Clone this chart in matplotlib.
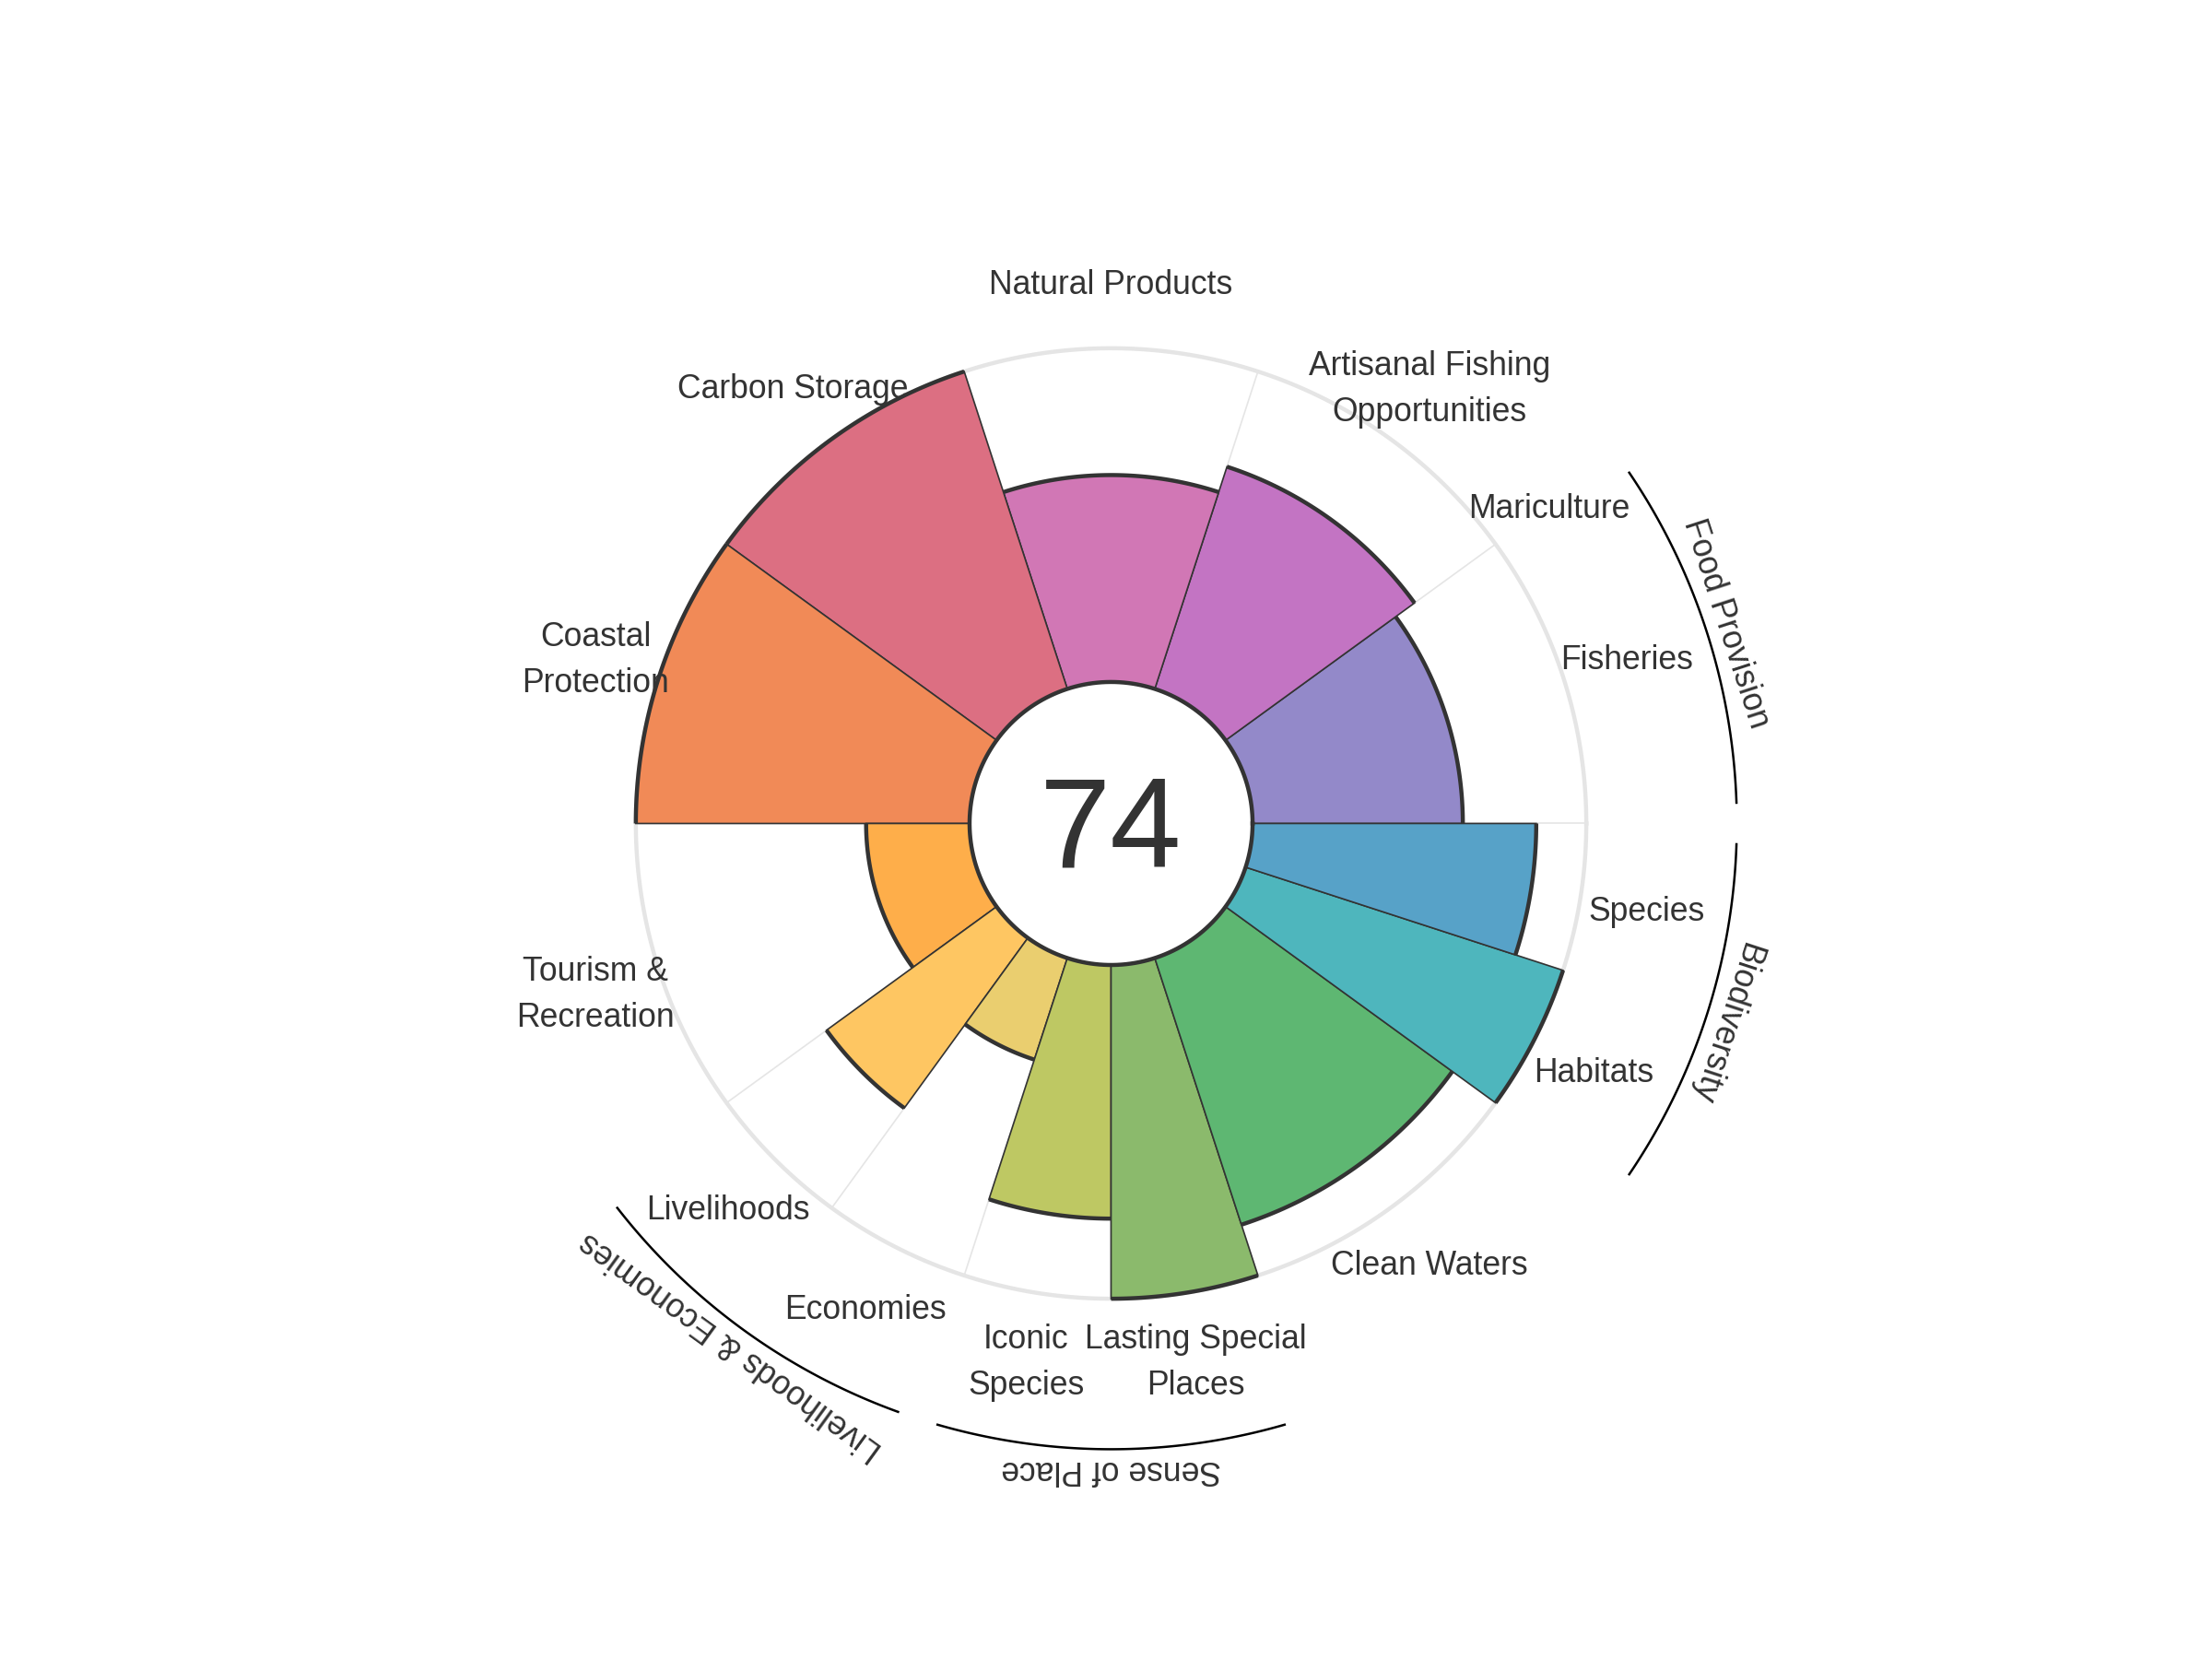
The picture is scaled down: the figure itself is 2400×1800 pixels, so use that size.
import numpy as np
import matplotlib
matplotlib.use("Agg")
from matplotlib import pyplot as plt
from matplotlib.transforms import offset_copy

plt.rcParams['font.family'] = ['Liberation Sans', 'DejaVu Sans']

# goals, counter-clockwise starting from east
goals = ['Fisheries', 'Mariculture', 'Artisanal Fishing\nOpportunities', 'Natural Products',
         'Carbon Storage', 'Coastal\nProtection', 'Tourism &\nRecreation', 'Livelihoods',
         'Economies', 'Iconic\nSpecies', 'Lasting Special\nPlaces', 'Clean Waters',
         'Habitats', 'Species']
scores = [63, 0, 70, 62, 100, 100, 31, 63, 32, 76, 100, 84, 100, 85]
weights = [2, 0, 2, 2, 2, 2, 2, 1, 1, 1, 1, 2, 1, 1]
colors = ['#9389C9', '#A37FC7', '#C374C3', '#D177B5', '#DC6F82', '#F18A57', '#FEAE4A',
          '#FEC662', '#EACE6F', '#BEC863', '#8BBA6C', '#5EB772', '#4EB6BD', '#57A2C8']
groups = ['Food Provision', 'Livelihoods & Economies', 'Sense of Place', 'Biodiversity']
group_members = [[0, 1], [7, 8], [9, 10], [12, 13]]
index_score = 74

base = 42.4     # radius of the centre hole
lab_r = 162.4
arc_r = 187.5
grp_r = 193.6

w = np.array(weights) / sum(weights) * 2 * np.pi
starts = np.concatenate([[0], np.cumsum(w)[:-1]])
mids = starts + w / 2

fig = plt.figure(figsize=(12, 9), dpi=200)
ax = fig.add_axes([0.20054, 0.10128, 0.6035, 0.8047], projection='polar')
ax.set_ylim(0, 200)
ax.axis('off')

# light grey frame
th = np.linspace(0, 2 * np.pi, 400)
ax.plot(th, np.full_like(th, base + 100), color='#e5e5e5', lw=1.6, zorder=1)
for s in np.unique(np.round(starts, 6)):
    ax.plot([s, s], [base, base + 100], color='#e5e5e5', lw=0.6, zorder=1)

for i in range(len(goals)):
    if w[i] == 0:
        continue
    ax.bar(starts[i], scores[i], width=w[i], bottom=base, align='edge',
           color=colors[i], edgecolor='#333333', linewidth=0.6, zorder=2)
    t = np.linspace(starts[i], starts[i] + w[i], 60)
    ax.plot(t, np.full_like(t, base + scores[i]), color='#333333', lw=1.6,
            solid_capstyle='butt', zorder=3)

# centre circle
ax.fill(th, np.full_like(th, base), color='white', zorder=4)
ax.plot(th, np.full_like(th, base), color='#333333', lw=1.6, zorder=5)
ax.text(0.5, 0.4675, str(index_score), ha='center', va='baseline', fontsize=50,
        color='#333333', zorder=6, transform=ax.transAxes)

# goal labels
lab_tr = offset_copy(ax.transData, fig=fig, x=0, y=-4.5, units='dots')
for i in range(len(goals)):
    ax.text(mids[i], lab_r, goals[i], ha='center', va='center', fontsize=12.8,
            color='#333333', linespacing=1.55, transform=lab_tr)

# group arcs and names
pad = np.deg2rad(1.9)
for g, members in zip(groups, group_members):
    a0 = starts[members[0]] + pad
    a1 = starts[members[-1]] + w[members[-1]] - pad
    t = np.linspace(a0, a1, 100)
    ax.plot(t, np.full_like(t, arc_r), color='black', lw=0.9, clip_on=False)
    am = (a0 + a1) / 2
    ax.text(am, grp_r, g, ha='center', va='center', fontsize=12.8, color='#333333',
            rotation=np.rad2deg(am) - 90, rotation_mode='anchor', clip_on=False)

fig.savefig('out.png', dpi=200, facecolor='white')
